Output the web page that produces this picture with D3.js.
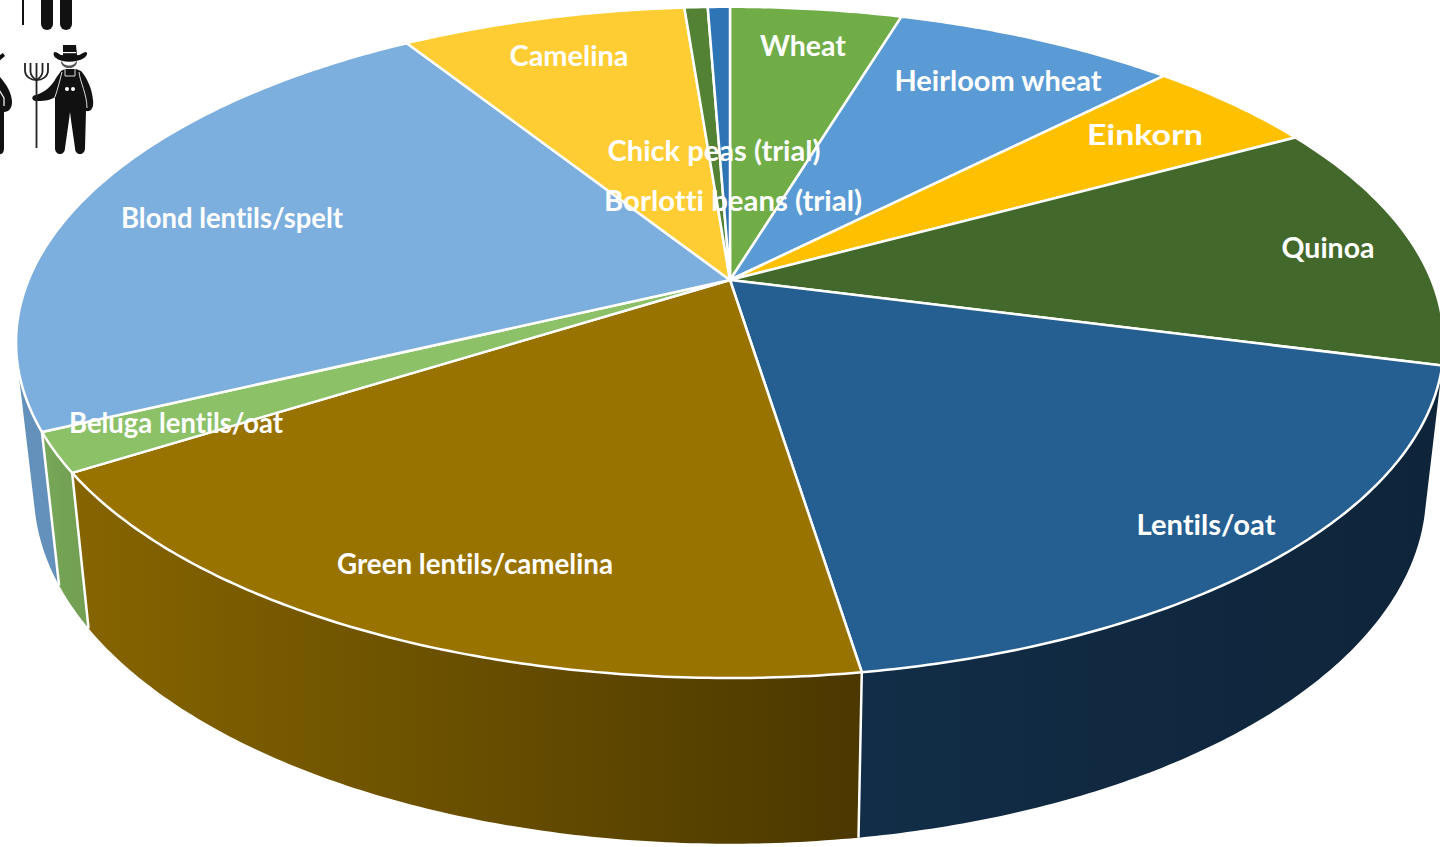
<!DOCTYPE html>
<html>
<head>
<meta charset="utf-8">
<script src="https://cdn.jsdelivr.net/npm/d3@7"></script>
<style>
  html, body { margin: 0; padding: 0; background: #fff; overflow: hidden; }
  text { font-family: Lato, "Open Sans", sans-serif; font-weight: 700; fill: #fff; font-variant-ligatures: none; }
</style>
</head>
<body>
<script>
// crops, clockwise from 12 o'clock, shares in percent
var crops = ["Wheat", "Heirloom wheat", "Einkorn", "Quinoa", "Lentils/oat", "Green lentils/camelina",
             "Beluga lentils/oat", "Blond lentils/spelt", "Camelina", "Chick peas (trial)", "Borlotti beans (trial)"];
var shares = [4.65, 7.7, 4.7, 12.0, 18.5, 18.45, 1.9, 23.15, 7.72, 0.63, 0.6];

var topColors = ["#70ad47", "#5b9bd5", "#ffc000", "#43682b", "#255e91", "#997300",
                 "#8cc168", "#7cafdd", "#fdcd33", "#548235", "#2e75b6"];
// side wall: left and right end of the horizontal gradient
var wallLeft  = ["#5d8a3e", "#4f86b8", "#d9a300", "#36531f", "#122d47", "#866500",
                 "#78a85a", "#6391bb", "#d9ae2a", "#466d2c", "#265f94"];
var wallRight = ["#5d8a3e", "#4f86b8", "#d9a300", "#36531f", "#0e2439", "#4b3800",
                 "#73a053", "#6591bd", "#d9ae2a", "#466d2c", "#265f94"];

// label anchors and widths, these were placed by hand in the original
var labelX = [803, 998, 1145, 1328, 1206, 475, 176, 232, 569, 714, 733];
var labelY = [45, 80, 134, 247, 524, 563, 422, 217, 55, 150, 200];
var labelW = [86, 207, 116, 93, 139, 276, 214, 222, 119, 213, 258];

var width = 1440, height = 847;

var svg = d3.select("body").append("svg")
    .attr("width", width)
    .attr("height", height)
    .style("display", "block");

// the pie is a tilted disc, k is the perspective strength
var k = 0.186;
var topDisc = {cx: 730, cy: 280, rx: 701.5, ry: 324};
var bottomDisc = {cx: 730, cy: 426, rx: 684, ry: 340};

function project(disc, angle) {
  var X = Math.sin(angle), Y = -Math.cos(angle);
  var w = 1 - k * Y;
  return [disc.cx + disc.rx * X / w, disc.cy + disc.ry * Y / w];
}

function rim(disc, a0, a1) {
  var n = Math.max(2, Math.ceil((a1 - a0) / 0.01));
  return d3.range(n + 1).map(function(i) {
    return project(disc, a0 + (a1 - a0) * i / n);
  });
}

var line = d3.line();

var arcs = d3.pie().sort(null).value(function(d) { return d; })(shares);

// only slices starting on the near half show a wall
var front = arcs.filter(function(d) {
  return project(topDisc, d.startAngle)[1] > topDisc.cy;
});

var defs = svg.append("defs");
front.forEach(function(d) {
  var pts = rim(topDisc, d.startAngle, d.endAngle);
  var xs = d3.extent(pts, function(p) { return p[0]; });
  var g = defs.append("linearGradient")
      .attr("id", "wall" + d.index)
      .attr("gradientUnits", "userSpaceOnUse")
      .attr("x1", xs[0]).attr("x2", xs[1] + 1)
      .attr("y1", 0).attr("y2", 0);
  g.append("stop").attr("offset", 0).attr("stop-color", wallLeft[d.index]);
  g.append("stop").attr("offset", 1).attr("stop-color", wallRight[d.index]);
});

// wall of one slice as many small quads, all wound the same way, so the
// strip still fills where it turns over at the left and right silhouette
function wallPath(d) {
  var upper = rim(topDisc, d.startAngle, d.endAngle);
  var lower = rim(bottomDisc, d.startAngle, d.endAngle);
  var out = "";
  for (var i = 0; i < upper.length - 1; i++) {
    var q = [upper[i], upper[i + 1], lower[i + 1], lower[i]];
    if (d3.polygonArea(q) < 0) q.reverse();
    out += line(q) + "Z";
  }
  return out;
}

// side walls first, the top face covers whatever is at the back
svg.append("g").selectAll("path")
    .data(front)
    .enter().append("path")
    .attr("fill", function(d) { return "url(#wall" + d.index + ")"; })
    .attr("d", wallPath);

// white seams between the walls
svg.append("g").selectAll("path")
    .data(front)
    .enter().append("path")
    .attr("fill", "none")
    .attr("stroke", "#fff")
    .attr("stroke-width", 2.5)
    .attr("d", function(d) {
      return line([project(topDisc, d.endAngle), project(bottomDisc, d.endAngle)]);
    });

svg.append("g").selectAll("path")
    .data(arcs)
    .enter().append("path")
    .attr("fill", function(d) { return topColors[d.index]; })
    .attr("stroke", "#fff")
    .attr("stroke-width", 2.5)
    .attr("stroke-linejoin", "round")
    .attr("d", function(d) {
      var pts = [[topDisc.cx, topDisc.cy]].concat(rim(topDisc, d.startAngle, d.endAngle));
      return line(pts) + "Z";
    });

svg.append("g").selectAll("text")
    .data(crops)
    .enter().append("text")
    .attr("x", function(d, i) { return labelX[i]; })
    .attr("y", function(d, i) { return labelY[i]; })
    .attr("text-anchor", "middle")
    .attr("dominant-baseline", "central")
    .attr("font-size", 28)
    .attr("textLength", function(d, i) { return labelW[i]; })
    .attr("lengthAdjust", "spacingAndGlyphs")
    .text(function(d) { return d; });

// farmer pictograms in the corner, cut off by the page edge
var icons = svg.append("g").attr("fill", "#111");

// legs of the one above
icons.append("rect").attr("x", 22).attr("y", -5).attr("width", 2).attr("height", 30);
icons.append("rect").attr("x", 41).attr("y", -12).attr("width", 12).attr("height", 42).attr("rx", 6);
icons.append("rect").attr("x", 60).attr("y", -12).attr("width", 12).attr("height", 42).attr("rx", 6);

// the one on the left edge
icons.append("path")
    .attr("d", "M-5,58 L3,53 L5,56 L-2,62Z M-5,72 C4,80 12,92 12,102 C12,108 9,112 4,112 L4,148 C4,155 0,155 -5,153Z");
icons.append("path")
    .attr("d", "M-2,88 L4,98 L4,106")
    .attr("fill", "none").attr("stroke", "#fff").attr("stroke-width", 1.2);

// the farmer with the fork
icons.append("path")
    .attr("d", "M63,45 L76,45 L77,55 C80,56 83,52 86,52 C88,53 87,56 84,58 C76,63 62,63 56,58 C53,56 53,52 55,52 C58,52 60,56 63,55Z");
icons.append("rect").attr("x", 63).attr("y", 52).attr("width", 13).attr("height", 1.2).attr("fill", "#fff");
icons.append("path")
    .attr("d", "M62,61 C63,67 75,67 76,61 L77,62 C76,70 62,70 61,62Z")
    .attr("fill", "#555");
icons.append("path")
    .attr("d", "M61,71 L65,69 L76,69 L81,71 C86,76 92,88 93,100 C94,108 91,112 86,111 L85,148 C85,156 75,156 75,148 L71,120 L70,112 L69,120 L65,148 C65,156 55,156 55,148 L55,97 C50,101 42,101 36,101 C31,101 31,95 36,95 C45,92 52,86 56,78Z");
icons.append("circle").attr("cx", 67).attr("cy", 89).attr("r", 2).attr("fill", "#fff");
icons.append("circle").attr("cx", 73).attr("cy", 89).attr("r", 2).attr("fill", "#fff");

var iconLines = icons.append("g").attr("fill", "none").attr("stroke", "#ddd").attr("stroke-width", 1);
iconLines.append("path").attr("d", "M65,69 L65,76 L75,76 L75,69");
iconLines.append("path").attr("d", "M62,72 C60,80 58,88 55,97");
iconLines.append("path").attr("d", "M79,72 C80,82 87,94 87,108");

var fork = icons.append("g").attr("fill", "none").attr("stroke", "#222").attr("stroke-width", 1.8);
fork.append("path").attr("d", "M36.500,148 L36.500,63");
fork.append("path").attr("d", "M25,63 L25,70 C25,77 31,80 36.500,80 C42,80 48,77 48,70 L48,63");
fork.append("path").attr("d", "M30.500,63 L30.500,72 C31,76 33,78 36.500,80 C40,78 42,76 42.500,72 L42.500,63");
</script>
</body>
</html>
